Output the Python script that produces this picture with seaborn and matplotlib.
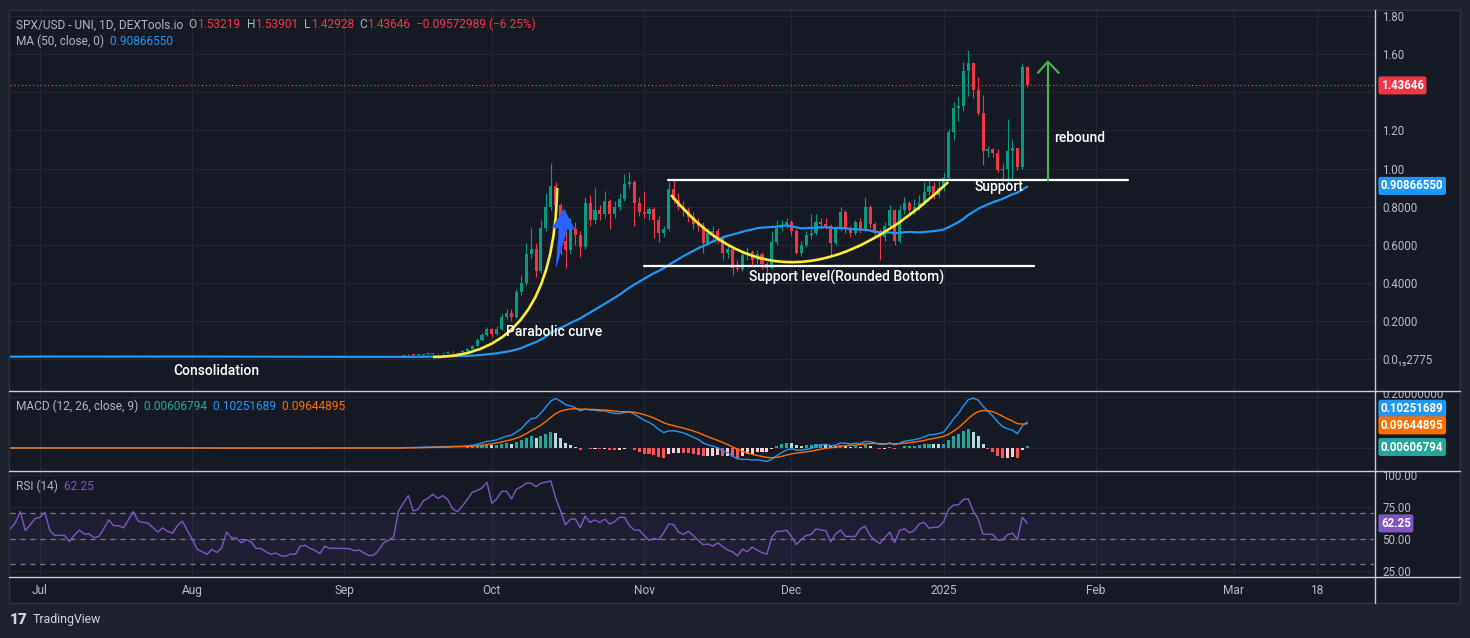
import numpy as np
import pandas as pd
import matplotlib
matplotlib.use("Agg")
import matplotlib.pyplot as plt
from matplotlib.path import Path
from matplotlib.patches import PathPatch, Polygon, Rectangle
from matplotlib.lines import Line2D
from matplotlib.text import Annotation
from matplotlib.transforms import Bbox, TransformedBbox
import seaborn as sns

# ---- daily candles (SPX/USD - UNI, 1D) ----
start_date = "2024-06-25"
first_open = 0.0118

close_consolidation = [
    0.0120, 0.0124, 0.0131, 0.0122, 0.0126, 0.0131, 0.0133, 0.0138, 0.0126, 0.0122,
    0.0123, 0.0121, 0.0117, 0.0122, 0.0127, 0.0124, 0.0125, 0.0121, 0.0122, 0.0128,
    0.0136, 0.0131, 0.0132, 0.0130, 0.0137, 0.0146, 0.0138, 0.0137, 0.0136, 0.0132,
    0.0127, 0.0130, 0.0127, 0.0125, 0.0131, 0.0136, 0.0128, 0.0121, 0.0110, 0.0107,
    0.0104, 0.0108, 0.0105, 0.0109, 0.0121, 0.0117, 0.0117, 0.0113, 0.0116, 0.0114,
    0.0108, 0.0108, 0.0105, 0.0102, 0.0103, 0.0100, 0.0099, 0.0101, 0.0101, 0.0107,
    0.0108, 0.0105, 0.0103, 0.0100, 0.0106, 0.0104, 0.0105, 0.0104, 0.0104, 0.0104,
    0.0101, 0.0102, 0.0099, 0.0096, 0.0097, 0.0101, 0.0108, 0.0111, 0.0115]
high_consolidation = [
    0.0126, 0.0130, 0.0138, 0.0135, 0.0131, 0.0137, 0.0139, 0.0145, 0.0141, 0.0130,
    0.0128, 0.0127, 0.0124, 0.0126, 0.0131, 0.0130, 0.0129, 0.0128, 0.0126, 0.0133,
    0.0142, 0.0139, 0.0137, 0.0136, 0.0142, 0.0153, 0.0150, 0.0142, 0.0141, 0.0139,
    0.0135, 0.0134, 0.0133, 0.0131, 0.0135, 0.0141, 0.0139, 0.0131, 0.0124, 0.0114,
    0.0111, 0.0112, 0.0111, 0.0113, 0.0127, 0.0124, 0.0122, 0.0120, 0.0120, 0.0119,
    0.0117, 0.0112, 0.0111, 0.0108, 0.0107, 0.0106, 0.0104, 0.0105, 0.0105, 0.0111,
    0.0113, 0.0111, 0.0109, 0.0106, 0.0110, 0.0109, 0.0109, 0.0108, 0.0108, 0.0108,
    0.0107, 0.0106, 0.0105, 0.0102, 0.0101, 0.0105, 0.0112, 0.0116, 0.0120]
low_consolidation = [
    0.0112, 0.0115, 0.0119, 0.0117, 0.0118, 0.0121, 0.0127, 0.0129, 0.0121, 0.0117,
    0.0118, 0.0116, 0.0112, 0.0114, 0.0118, 0.0120, 0.0120, 0.0117, 0.0117, 0.0119,
    0.0124, 0.0127, 0.0127, 0.0125, 0.0127, 0.0133, 0.0134, 0.0132, 0.0131, 0.0128,
    0.0123, 0.0124, 0.0123, 0.0121, 0.0122, 0.0128, 0.0124, 0.0117, 0.0106, 0.0103,
    0.0100, 0.0101, 0.0101, 0.0102, 0.0106, 0.0113, 0.0113, 0.0109, 0.0110, 0.0110,
    0.0104, 0.0104, 0.0101, 0.0098, 0.0099, 0.0096, 0.0095, 0.0096, 0.0097, 0.0098,
    0.0104, 0.0101, 0.0099, 0.0096, 0.0097, 0.0100, 0.0101, 0.0100, 0.0100, 0.0100,
    0.0097, 0.0098, 0.0095, 0.0092, 0.0093, 0.0094, 0.0098, 0.0105, 0.0108]

close_breakout = [
    0.016, 0.019, 0.023, 0.021, 0.022, 0.025, 0.027, 0.030, 0.029, 0.034,
    0.037, 0.035, 0.036, 0.042, 0.055, 0.070, 0.100, 0.126, 0.157, 0.130,
    0.157, 0.220, 0.240, 0.220, 0.350, 0.400, 0.550, 0.580, 0.460, 0.690,
    0.800, 0.910, 0.810, 0.620, 0.570, 0.680, 0.650, 0.590, 0.820, 0.730,
    0.780, 0.760, 0.830, 0.760, 0.800, 0.840, 0.920, 0.930, 0.820, 0.770,
    0.760, 0.785, 0.730, 0.660, 0.680, 0.890]
high_breakout = [
    0.0168, 0.0205, 0.0245, 0.0250, 0.0240, 0.0270, 0.0290, 0.0320, 0.0330, 0.0360,
    0.0400, 0.0400, 0.0390, 0.0450, 0.0590, 0.0760, 0.1080, 0.1350, 0.1700, 0.1620,
    0.1750, 0.2350, 0.2650, 0.2600, 0.3650, 0.4400, 0.6100, 0.6900, 0.6100, 0.7300,
    0.8700, 1.0300, 0.9300, 0.8200, 0.6800, 0.7400, 0.7200, 0.6700, 0.8500, 0.8600,
    0.9000, 0.8100, 0.8800, 0.8400, 0.8300, 0.8700, 0.9700, 0.9800, 0.9400, 0.8500,
    0.8800, 0.8000, 0.8000, 0.7500, 0.7000, 0.9300]
low_breakout = [
    0.0112, 0.0155, 0.0180, 0.0200, 0.0200, 0.0210, 0.0240, 0.0260, 0.0275, 0.0280,
    0.0330, 0.0330, 0.0335, 0.0350, 0.0410, 0.0530, 0.0680, 0.0970, 0.1200, 0.1180,
    0.1250, 0.1500, 0.2100, 0.2000, 0.2150, 0.3350, 0.3900, 0.5300, 0.4300, 0.4500,
    0.6700, 0.7800, 0.7600, 0.5500, 0.4800, 0.5500, 0.6000, 0.5350, 0.5800, 0.7000,
    0.7100, 0.7300, 0.7400, 0.6800, 0.7400, 0.7800, 0.8300, 0.9000, 0.7000, 0.7500,
    0.7400, 0.7300, 0.6350, 0.6140, 0.6400, 0.6700]

close_rounding = [
    0.835, 0.800, 0.780, 0.745, 0.710, 0.700, 0.610, 0.660, 0.670, 0.640,
    0.556, 0.580, 0.480, 0.470, 0.545, 0.560, 0.520, 0.550, 0.500, 0.478,
    0.615, 0.690, 0.700, 0.720, 0.670, 0.556, 0.600, 0.650, 0.660, 0.720,
    0.710, 0.700, 0.610, 0.680, 0.770, 0.680, 0.660, 0.720, 0.680, 0.800,
    0.710, 0.660, 0.640, 0.700, 0.780, 0.620, 0.780, 0.820, 0.780, 0.800,
    0.820, 0.875, 0.910, 0.860, 0.900, 0.950, 1.190, 1.320, 1.330, 1.510,
    1.555, 1.410, 1.290, 1.090, 1.100, 1.080, 0.990, 1.000, 1.090, 1.110,
    1.010, 1.53219, 1.43646]
high_rounding = [
    0.945, 0.870, 0.830, 0.800, 0.770, 0.740, 0.720, 0.690, 0.700, 0.690,
    0.650, 0.600, 0.590, 0.520, 0.560, 0.590, 0.570, 0.570, 0.560, 0.510,
    0.670, 0.730, 0.730, 0.740, 0.730, 0.680, 0.620, 0.670, 0.760, 0.760,
    0.740, 0.740, 0.710, 0.700, 0.800, 0.780, 0.700, 0.730, 0.740, 0.850,
    0.810, 0.720, 0.680, 0.720, 0.810, 0.790, 0.810, 0.850, 0.830, 0.840,
    0.860, 0.930, 0.940, 0.930, 0.950, 0.980, 1.210, 1.350, 1.380, 1.560,
    1.620, 1.560, 1.480, 1.386, 1.120, 1.110, 1.100, 1.030, 1.260, 1.155,
    1.110, 1.555, 1.53901]
low_rounding = [
    0.820, 0.780, 0.750, 0.720, 0.680, 0.670, 0.556, 0.600, 0.630, 0.610,
    0.520, 0.530, 0.440, 0.460, 0.460, 0.520, 0.490, 0.500, 0.470, 0.450,
    0.470, 0.600, 0.670, 0.690, 0.650, 0.550, 0.540, 0.590, 0.630, 0.650,
    0.690, 0.680, 0.540, 0.600, 0.670, 0.660, 0.640, 0.650, 0.660, 0.670,
    0.690, 0.640, 0.520, 0.620, 0.690, 0.600, 0.610, 0.760, 0.750, 0.760,
    0.780, 0.810, 0.860, 0.840, 0.850, 0.880, 0.940, 1.150, 1.250, 1.300,
    1.380, 1.370, 1.280, 1.020, 1.060, 1.060, 0.980, 0.930, 0.925, 0.940,
    0.990, 1.000, 1.42928]

rsi_consolidation = [
    58, 63, 71.5, 56.7, 61, 66, 67, 71, 56.7, 52.8, 53, 52.8, 48, 53, 57, 54, 54, 51, 52, 58,
    65, 60.5, 60.5, 58.7, 65, 71.5, 64, 63, 62.5, 59, 55.4, 58.7, 56, 54.6, 60.5, 64, 56.7, 50, 42, 40,
    38, 41.8, 39.5, 43, 55.4, 51, 50.8, 47, 49.5, 47.7, 42.6, 42.6, 40, 38, 39, 37, 36.4, 38.2, 38, 44.4,
    45, 42.6, 41, 38.7, 44.4, 42.6, 42.8, 42.6, 42.6, 42.4, 40.8, 41.3, 39, 37, 37.4, 41.3, 47.2, 49, 51.5]
rsi_breakout = [
    72, 78, 84, 72, 73.3, 79.7, 82, 85, 81.8, 84, 81, 73.8, 71.3, 76, 81, 86.7, 88, 90, 94.6, 78,
    81.5, 87.4, 87.4, 81.5, 89, 91, 93.8, 93.8, 91, 93.8, 94.5, 95.6, 82, 72, 61, 65.6, 65.6, 59, 68, 63,
    64.9, 63, 65.6, 61.8, 63.6, 67, 67, 60.5, 57, 57, 52.8, 49, 50.3, 49.5, 55, 61.8]
rsi_rounding = [
    61.3, 55.4, 53.6, 56, 52.8, 49, 45.6, 46, 44.4, 47, 44, 41.3, 40, 36.7, 42, 40, 43.6, 41.3, 39.2, 38.2,
    51.5, 56, 56, 57, 52, 45.6, 49.7, 52.8, 53.6, 58, 57, 56.5, 47.7, 54, 57, 52, 52, 52, 58, 60,
    52.8, 49, 46.4, 51, 55.4, 47.2, 56.7, 58, 54.9, 56.7, 61.8, 63, 58.5, 59.2, 59.5, 63.6, 73.3, 76.7, 76.7, 81,
    81.5, 72, 65.6, 53.8, 53.8, 53.6, 49, 49.5, 53.3, 54.6, 49.5, 67, 62.25]

# 1.40 sits behind the last-price tag, so its label is left blank
price_ticks = [1.8, 1.6, 1.4, 1.2, 1.0, 0.8, 0.6, 0.4, 0.2, 0.0]
price_tick_labels = ["1.80", "1.60", "", "1.20", "1.00", "0.8000", "0.6000",
                     "0.4000", "0.2000", "0.0\u2081\u20852775"]
rsi_ticks = [25, 50, 75, 100]
rsi_tick_labels = ["25.00", "50.00", "75.00", "100.00"]
tick_dates = ["2024-07-01", "2024-08-01", "2024-09-01", "2024-10-01", "2024-11-01",
              "2024-12-01", "2025-01-01", "2025-02-01", "2025-03-01", "2025-03-18"]
tick_labels = ["Jul", "Aug", "Sep", "Oct", "Nov", "Dec", "2025", "Feb", "Mar", "18"]

# ---- colours ----
BG = "#161a25"
OUTER = "#1e222d"
GRID = "#242834"
TXT = "#b2b5be"
SEP = "#c9ccd4"
UP = "#089981"
DOWN = "#f23645"
BLUE = "#2196f3"
ORANGE = "#ff6d00"
TEAL = "#26a69a"
PURPLE = "#7e57c2"
YELLOW = "#ffeb3b"

sns.set_theme(style="dark")
plt.rcParams["font.family"] = ["Roboto", "DejaVu Sans"]

closes = close_consolidation + close_breakout + close_rounding
df = pd.DataFrame({
    "day": np.arange(len(closes)),
    "close": closes,
    "high": high_consolidation + high_breakout + high_rounding,
    "low": low_consolidation + low_breakout + low_rounding,
    "rsi": rsi_consolidation + rsi_breakout + rsi_rounding,
})
df["open"] = [first_open] + closes[:-1]
df["ma"] = df["close"].rolling(50, min_periods=1).mean()
fast = df["close"].ewm(span=12, adjust=False).mean()
slow = df["close"].ewm(span=26, adjust=False).mean()
df["macd"] = fast - slow
df["signal"] = df["macd"].ewm(span=9, adjust=False).mean()
df["hist"] = df["macd"] - df["signal"]

start = pd.Timestamp(start_date)
tick_days = [(pd.Timestamp(d) - start).days for d in tick_dates]

W, H = 1470, 638
fig = plt.figure(figsize=(W / 100, H / 100), dpi=100, facecolor=OUTER)


def box(x0, y0, x1, y1):
    return [x0 / W, 1 - y1 / H, (x1 - x0) / W, (y1 - y0) / H]


fig.patches.append(Rectangle((9 / W, 1 - 603 / H), 1451 / W, 593 / H,
                             transform=fig.transFigure, fc=BG, ec="#2f3340", lw=1, zorder=-5))

ax_p = fig.add_axes(box(10, 11, 1374, 390))
ax_m = fig.add_axes(box(10, 391, 1374, 470), sharex=ax_p)
ax_r = fig.add_axes(box(10, 471, 1374, 576), sharex=ax_p)

for ax in (ax_p, ax_m, ax_r):
    ax.set_facecolor(BG)
    for sp in ax.spines.values():
        sp.set_visible(False)
    ax.yaxis.tick_right()
    ax.tick_params(axis="both", length=0, colors="#b8bbc4", labelsize=8.3)
    ax.tick_params(axis="y", pad=6)
    ax.grid(True, color=GRID, lw=0.8)
    ax.set_axisbelow(True)

# ---- price panel ----
colors = np.where(df["close"] >= df["open"], UP, DOWN)
ax_p.vlines(df["day"], df["low"], df["high"], colors=colors, lw=0.8, zorder=3)
body = (df["close"] - df["open"]).abs().clip(lower=0.004)
ax_p.bar(df["day"], body, bottom=np.minimum(df["open"], df["close"]), width=0.62,
         color=colors, linewidth=0, zorder=3)
sns.lineplot(data=df, x="day", y="ma", ax=ax_p, color=BLUE, lw=1.6, zorder=4)
ax_p.axhline(1.43646, color=DOWN, ls=(0, (1, 2)), lw=0.9, zorder=2)


def bezier(ax, p0, p1, p2):
    path = Path([p0, p1, p2], [Path.MOVETO, Path.CURVE3, Path.CURVE3])
    ax.add_patch(PathPatch(path, fill=False, ec=YELLOW, lw=1.9, zorder=5))


bezier(ax_p, (86.0, 0.0105), (110.7, 0.0105), (111.3, 0.898))
bezier(ax_p, (134.5, 0.861), (158.0, 0.123), (190.9, 0.929))

ax_p.add_patch(Polygon([(111.1, 0.483), (113.3, 0.682), (114.8, 0.682), (112.7, 0.787),
                        (110.3, 0.688), (111.7, 0.688)], closed=True, fc="#2962ff",
                       ec="#2962ff", lw=0.5, zorder=6))

ax_p.plot([133.8, 227.6], [0.94, 0.94], color="white", lw=1.6, zorder=6)
ax_p.plot([129.0, 208.4], [0.488, 0.488], color="white", lw=1.6, zorder=6)
ax_p.plot([211.2, 211.2], [0.94, 1.561], color="#4caf50", lw=1.6, zorder=6)
ax_p.plot([209.2, 211.2, 213.4], [1.503, 1.561, 1.503], color="#4caf50", lw=1.6, zorder=6)

for txt, x, y in [("Consolidation", 42.0, -0.063), ("Parabolic curve", 110.7, 0.142),
                  ("Support level(Rounded Bottom)", 170.2, 0.430), ("Support", 201.3, 0.903),
                  ("rebound", 217.6, 1.160)]:
    ax_p.text(x, y, txt, color="white", fontsize=10, fontweight="medium",
              ha="center", va="center", zorder=7)

ax_p.set_ylim(-0.1627, 1.827)
ax_p.set_yticks(price_ticks)
ax_p.set_yticklabels(price_tick_labels)
ax_p.set_xlim(-0.1, 277.6)

# ---- MACD panel ----
hprev = df["hist"].shift(1).fillna(0)
hcol = np.where(df["hist"] >= 0,
                np.where(df["hist"] >= hprev, TEAL, "#b2dfdb"),
                np.where(df["hist"] < hprev, "#ff5252", "#ffcdd2"))
ax_m.bar(df["day"], df["hist"], width=0.62, color=hcol, linewidth=0, zorder=2)
sns.lineplot(data=df, x="day", y="macd", ax=ax_m, color=BLUE, lw=1.0, zorder=3)
sns.lineplot(data=df, x="day", y="signal", ax=ax_m, color=ORANGE, lw=1.0, zorder=3)
ax_m.set_ylim(-0.0863, 0.2235)
ax_m.set_yticks([0.0, 0.2])
ax_m.set_yticklabels(["", ""])
# top scale value of the MACD pane, cut off by the pane border as on the chart
scale_top = fig.text(1382 / W, 1 - 395 / H, "0.20000000", color="#b8bbc4", fontsize=8.3,
                     ha="left", va="center")
scale_top.set_clip_box(TransformedBbox(Bbox([[1375 / W, 1 - 470 / H], [1460 / W, 1 - 391 / H]]),
                                       fig.transFigure))
scale_top.set_clip_on(True)

# ---- RSI panel ----
ax_r.axhspan(30, 70, color=PURPLE, alpha=0.09, lw=0, zorder=1)
for lvl in (70, 50, 30):
    ax_r.axhline(lvl, color="#787b86", ls=(0, (4, 4)), lw=0.9, zorder=2)
sns.lineplot(data=df, x="day", y="rsi", ax=ax_r, color=PURPLE, lw=1.0, zorder=3)
ax_r.set_ylim(20.98, 103.33)
ax_r.set_yticks(rsi_ticks)
ax_r.set_yticklabels(rsi_tick_labels)

ax_r.set_xticks(tick_days)
ax_r.set_xticklabels(tick_labels)
ax_r.tick_params(axis="x", pad=6, labelsize=8.6)
for ax in (ax_p, ax_m):
    ax.tick_params(axis="x", labelbottom=False)
for ax in (ax_p, ax_m, ax_r):
    ax.set_xlabel("")
    ax.set_ylabel("")


# ---- value tags on the scale ----
def tag(ax, y, text, color, axes_coords=False):
    trans = ax.transAxes if axes_coords else ax.get_yaxis_transform()
    ax.annotate(text, xy=(1, y), xycoords=trans, xytext=(5, 0), textcoords="offset points",
                ha="left", va="center", fontsize=8.3, color="white", fontweight="bold",
                bbox=dict(boxstyle="round,pad=0.22,rounding_size=0.2", fc=color, ec="none"),
                annotation_clip=False, zorder=10)


tag(ax_p, 1.43646, "1.43646", DOWN)
tag(ax_p, 0.9086655, "0.90866550", BLUE)
tag(ax_m, 0.775, "0.10251689", BLUE, axes_coords=True)
tag(ax_m, 0.565, "0.09644895", ORANGE, axes_coords=True)
tag(ax_m, 0.291, "0.00606794", TEAL, axes_coords=True)
tag(ax_r, 62.25, "62.25", PURPLE)


# ---- legend lines in the panels ----
def chain(x, y, parts, size=8.6):
    t = fig.text(x / W, 1 - y / H, parts[0][0], color=parts[0][1], fontsize=size,
                 ha="left", va="center", zorder=30)
    for s, c in parts[1:]:
        a = Annotation(s, xy=(1, 0), xycoords=t, color=c, fontsize=size,
                       ha="left", va="bottom", annotation_clip=False)
        a.set_zorder(30)
        fig.add_artist(a)
        t = a


chain(16, 25, [("SPX/USD - UNI, 1D, DEXTools.io", TXT), ("  O", TXT), ("1.53219", DOWN),
               ("  H", TXT), ("1.53901", DOWN), ("  L", TXT), ("1.42928", DOWN),
               ("  C", TXT), ("1.43646", DOWN), ("  \u22120.09572989 (\u22126.25%)", DOWN)])
chain(16, 41, [("MA (50, close, 0)", TXT), ("  0.90866550", BLUE)])
chain(16, 406, [("MACD (12, 26, close, 9)", TXT), ("  0.00606794", TEAL),
                ("  0.10251689", BLUE), ("  0.09644895", ORANGE)])
chain(16, 486, [("RSI (14)", TXT), ("  62.25", PURPLE)])


# ---- pane separators ----
def px_line(x0, y0, x1, y1):
    fig.add_artist(Line2D([x0 / W, x1 / W], [1 - y0 / H, 1 - y1 / H], color=SEP, lw=1,
                          transform=fig.transFigure, zorder=20))


px_line(9, 390.5, 1460, 390.5)
px_line(9, 470.5, 1460, 470.5)
px_line(9, 576.5, 1460, 576.5)
px_line(1374.5, 10, 1374.5, 603)

fig.text(10 / W, 1 - 620 / H, "17", fontsize=11, fontweight="heavy", color="#d1d4dc", va="center")
fig.text(33 / W, 1 - 620 / H, "TradingView", fontsize=8.8, color="#d1d4dc", va="center")

fig.savefig("out.png", dpi=100, facecolor=OUTER)
